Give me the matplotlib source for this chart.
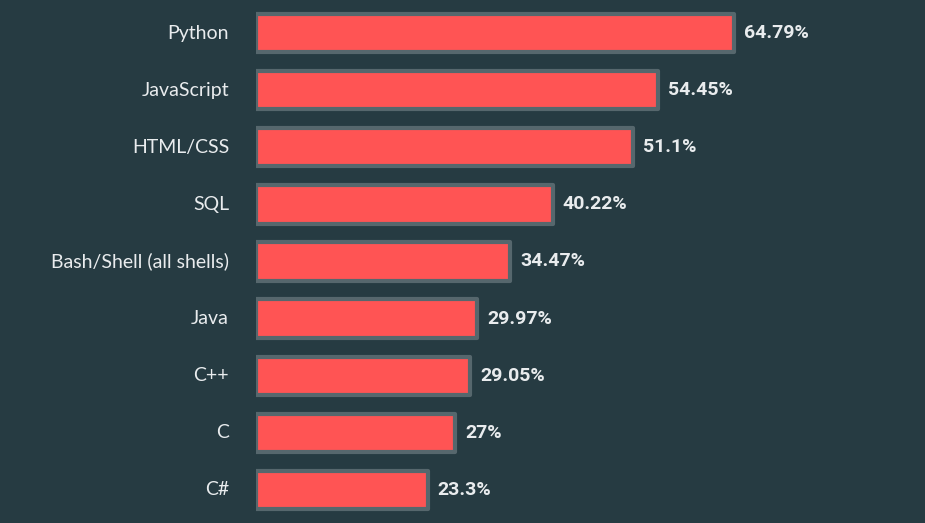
import numpy as np
import matplotlib.pyplot as plt

languages = ['Python', 'JavaScript', 'HTML/CSS', 'SQL', 'Bash/Shell (all shells)',
             'Java', 'C++', 'C', 'C#']
values = [64.79, 54.45, 51.1, 40.22, 34.47, 29.97, 29.05, 27, 23.3]
value_labels = ['64.79%', '54.45%', '51.1%', '40.22%', '34.47%', '29.97%', '29.05%', '27%', '23.3%']

bg = '#263b42'
bar_color = '#ff5454'
edge_color = '#56676d'
text_color = '#e9ecee'

fig = plt.figure(figsize=(9.25, 5.23), dpi=100, facecolor=bg)
ax = fig.add_axes([256 / 925, 0, 669 / 925, 1])
ax.set_facecolor(bg)

y = np.arange(len(languages))
ax.barh(y, values, height=0.67, color=bar_color, edgecolor=edge_color,
        linewidth=3, joinstyle='round')

ax.set_xlim(0, 90.7)
ax.set_ylim(8.58, -0.58)

for yi, v, lab in zip(y, values, value_labels):
    ax.annotate(lab, (v, yi), xytext=(10, 0), textcoords='offset pixels',
                va='center', ha='left', fontsize=14, fontweight='bold',
                color=text_color, family='Roboto')

for yi, name in zip(y, languages):
    ax.annotate(name, (0, yi), xytext=(-27, 0), textcoords='offset pixels',
                va='center', ha='right', fontsize=14, color=text_color,
                family='Lato', annotation_clip=False)

ax.set_xticks([])
ax.set_yticks([])
for s in ax.spines.values():
    s.set_visible(False)

fig.savefig('out.png', dpi=100, facecolor=bg)
